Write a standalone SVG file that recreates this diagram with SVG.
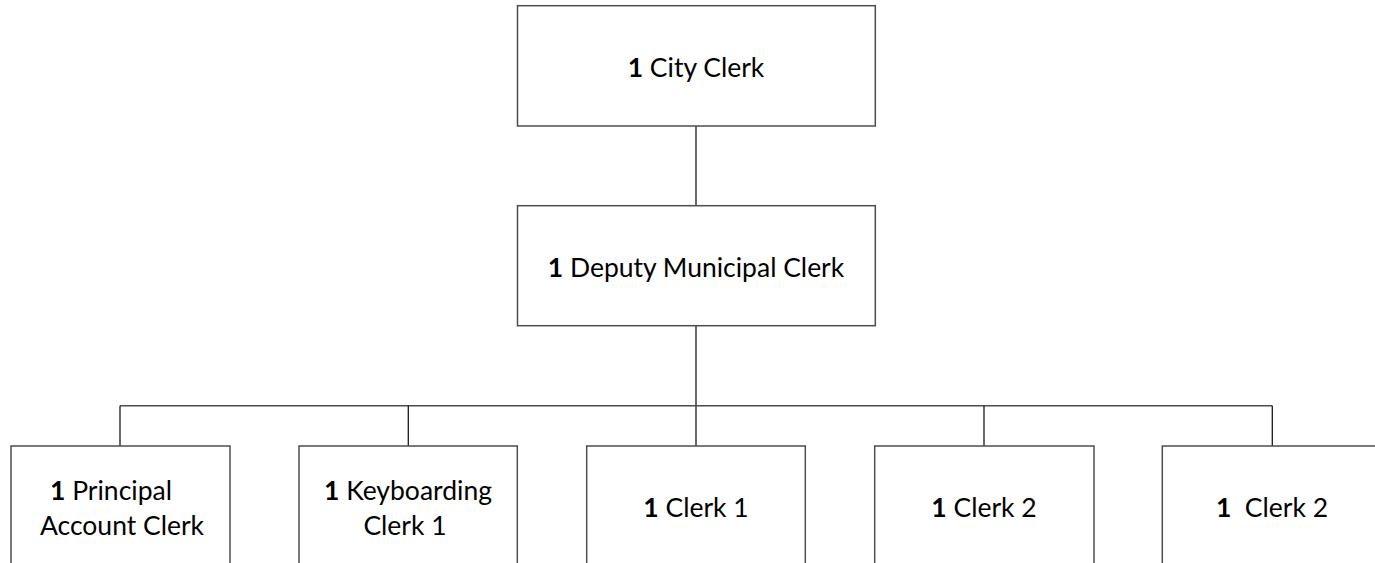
<svg xmlns="http://www.w3.org/2000/svg" width="1375" height="563" viewBox="0 0 1375 563">
<style>
.box{fill:#fff;stroke:#4d4d4d;stroke-width:1.5}
.ln{stroke:#1a1a1a;stroke-width:1.3;fill:none}
.hl{stroke:#4d4d4d;stroke-width:1.5;fill:none}
text{font-family:Lato,"Liberation Sans",sans-serif;font-size:26.5px;fill:#000;text-anchor:middle}
.b{font-weight:bold}
</style>
<rect width="1375" height="563" fill="#fff"/>
<g id="connectors">
<line class="ln" x1="696" y1="126" x2="696" y2="206"/>
<line class="ln" x1="696" y1="326" x2="696" y2="446"/>
<line class="hl" x1="120" y1="405.7" x2="1272.3" y2="405.7"/>
<line class="ln" x1="120" y1="405.7" x2="120" y2="446"/>
<line class="ln" x1="408.3" y1="405.7" x2="408.3" y2="446"/>
<line class="ln" x1="984" y1="405.7" x2="984" y2="446"/>
<line class="ln" x1="1272.3" y1="405.7" x2="1272.3" y2="446"/>
</g>
<g id="city-clerk">
<rect class="box" x="517.5" y="5.7" width="357.8" height="120.3"/>
<text x="696" y="77"><tspan class="b">1</tspan> City Clerk</text>
</g>
<g id="deputy-municipal-clerk">
<rect class="box" x="517.5" y="205.7" width="357.8" height="120"/>
<text x="696" y="277"><tspan class="b">1</tspan> Deputy Municipal Clerk</text>
</g>
<g id="principal-account-clerk">
<rect class="box" x="11" y="446" width="219" height="130"/>
<text x="111" y="500"><tspan class="b">1</tspan> Principal</text>
<text x="122" y="535">Account Clerk</text>
</g>
<g id="keyboarding-clerk-1">
<rect class="box" x="299" y="446" width="218.3" height="130"/>
<text x="408" y="500"><tspan class="b">1</tspan> Keyboarding</text>
<text x="405" y="535">Clerk 1</text>
</g>
<g id="clerk-1">
<rect class="box" x="586.7" y="446" width="218.6" height="130"/>
<text x="696" y="517"><tspan class="b">1</tspan> Clerk 1</text>
</g>
<g id="clerk-2-a">
<rect class="box" x="874.7" y="446" width="219.3" height="130"/>
<text x="984" y="517"><tspan class="b">1</tspan> Clerk 2</text>
</g>
<g id="clerk-2-b">
<rect class="box" x="1162.3" y="446" width="219" height="130"/>
<text x="1272" y="517" xml:space="preserve"><tspan class="b">1</tspan>  Clerk 2</text>
</g>
</svg>
